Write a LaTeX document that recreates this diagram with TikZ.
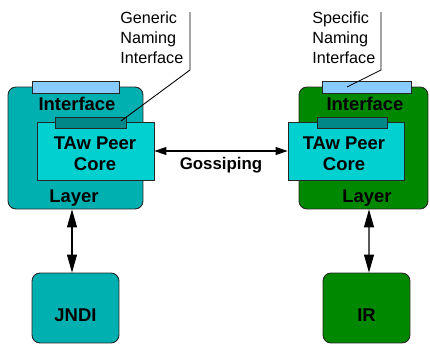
\documentclass[tikz,border=0pt]{standalone}
\usepackage{fontspec}
\setmainfont{Liberation Sans}
\usetikzlibrary{arrows.meta}

\definecolor{layerteal}{RGB}{0,176,176}
\definecolor{layergreen}{RGB}{0,136,0}
\definecolor{corecyan}{RGB}{0,208,208}
\definecolor{barblue}{RGB}{136,204,255}
\definecolor{bardark}{RGB}{0,136,136}

\tikzset{
    boxline/.style={draw=black!85, line width=0.5pt, inner sep=0pt},
    layerbox/.style={boxline, rounded corners=0.16cm},
    flatbox/.style={boxline},
    boldlabel/.style={font=\fontsize{10.5}{12}\selectfont\bfseries, inner sep=0pt},
    callout/.style={font=\fontsize{9.2}{11.3}\selectfont, align=left, anchor=west, inner sep=0pt},
    hlink/.style={line width=0.6pt, {Triangle[length=0.24cm,width=0.16cm]}-{Triangle[length=0.24cm,width=0.16cm]}},
    vlink/.style={line width=0.6pt, {Triangle[length=0.36cm,width=0.2cm]}-{Triangle[length=0.36cm,width=0.2cm]}}
}

\begin{document}
\begin{tikzpicture}[x=0.02cm, y=-0.02cm]
        \useasboundingbox (0,0) rectangle (430,345);

        \node[layerbox, fill=layerteal, minimum width=2.7cm, minimum height=2.44cm] (llayer) at (75.5,148) {};
        \node[layerbox, fill=layergreen, minimum width=2.58cm, minimum height=2.44cm] (rlayer) at (363.5,148) {};

        \node[flatbox, fill=barblue, minimum width=1.74cm, minimum height=0.24cm] (lbar) at (75.5,87) {};
        \node[flatbox, fill=barblue, minimum width=1.78cm, minimum height=0.24cm] (rbar) at (366.5,87) {};

        \node[flatbox, fill=corecyan, minimum width=2.34cm, minimum height=1.16cm] (lcore) at (95.5,151) {};
        \node[flatbox, fill=corecyan, minimum width=2.32cm, minimum height=1.16cm] (rcore) at (346,151) {};

        \node[flatbox, fill=bardark, minimum width=1.42cm, minimum height=0.22cm] (lgate) at (90.5,122.5) {};
        \node[flatbox, fill=bardark, minimum width=1.4cm, minimum height=0.22cm] (rgate) at (352,122.5) {};

        \node[boldlabel] (lintf) at (77,104) {Interface};
        \node[boldlabel] (rintf) at (365,104) {Interface};
        \node[boldlabel, align=center] (lpeer) at (95,153.5) {TAw Peer\\Core};
        \node[boldlabel, align=center] (rpeer) at (344,153.5) {TAw Peer\\Core};
        \node[boldlabel] (llbl) at (74,198) {Layer};
        \node[boldlabel] (rlbl) at (367,198) {Layer};

        \node[layerbox, fill=layerteal, minimum width=1.74cm, minimum height=1.4cm] (jndi) at (75.5,308) {};
        \node[layerbox, fill=layergreen, minimum width=1.74cm, minimum height=1.4cm] (ir) at (366.5,308) {};
        \node[boldlabel] (jndilbl) at (75.5,315) {JNDI};
        \node[boldlabel] (irlbl) at (366.5,315) {IR};

        \draw[hlink] (lcore.east) -- (rcore.west)
            node[midway, below=0.12cm, boldlabel, font=\fontsize{9.6}{11}\selectfont\bfseries] (goss) {Gossiping};
        \draw[vlink] ([xshift=-0.07cm]llayer.south) -- ([xshift=-0.07cm]jndi.north);
        \draw[vlink] ([xshift=0.11cm]rlayer.south) -- ([xshift=0.05cm]ir.north);

        \node[callout] (gname) at (120,38) {Generic\\Naming\\Interface};
        \node[callout] (sname) at (312,38) {Specific\\Naming\\Interface};

        \coordinate (gtip) at (121,121);
        \coordinate (gbend) at (190,70);
        \coordinate (gtop) at (190,12);
        \coordinate (stip) at (347,87);
        \coordinate (sbend) at (381,70);
        \coordinate (stop) at (381,12);
        \draw[line width=0.5pt] (gtip) -- (gbend) -- (gtop);
        \draw[line width=0.5pt] (stip) -- (sbend) -- (stop);
\end{tikzpicture}
\end{document}
